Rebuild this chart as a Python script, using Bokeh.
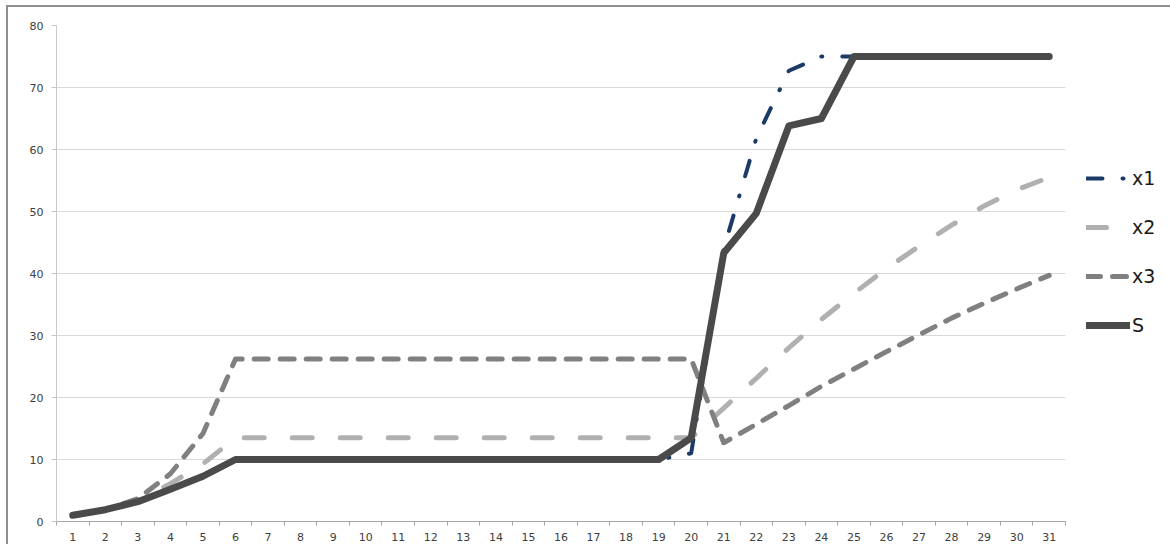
from bokeh.plotting import figure
from bokeh.models import FixedTicker, Legend, LegendItem, ColumnDataSource, Range1d
from bokeh.embed import file_html
from bokeh.resources import INLINE

days = [1, 2, 3, 4, 5, 6, 7, 8, 9, 10, 11, 12, 13, 14, 15, 16,
        17, 18, 19, 20, 21, 22, 23, 24, 25, 26, 27, 28, 29, 30, 31]
day_labels = ["1", "2", "3", "4", "5", "6", "7", "8", "9", "10", "11", "12", "13", "14", "15", "16",
              "17", "18", "19", "20", "21", "22", "23", "24", "25", "26", "27", "28", "29", "30", "31"]

x1 = [1, 1.9, 3.2, 5.2, 7.3, 10, 10, 10, 10, 10, 10, 10, 10, 10, 10, 10,
      10, 10, 10, 11, 44, 61.8, 72.7, 75, 75, 75, 75, 75, 75, 75, 75]
x2 = [1, 1.9, 3.4, 6.1, 9.3, 13.5, 13.5, 13.5, 13.5, 13.5, 13.5, 13.5, 13.5, 13.5, 13.5, 13.5,
      13.5, 13.5, 13.5, 13.5, 18.3, 23.1, 28.0, 32.6, 36.8, 40.8, 44.4, 47.8, 50.9, 53.5, 55.5]
x3 = [1, 1.9, 3.7, 7.7, 14.2, 26.2, 26.2, 26.2, 26.2, 26.2, 26.2, 26.2, 26.2, 26.2, 26.2, 26.2,
      26.2, 26.2, 26.2, 26.2, 12.7, 15.7, 18.7, 21.8, 24.6, 27.4, 30.1, 32.8, 35.2, 37.5, 39.7]
S = [1, 1.9, 3.2, 5.2, 7.3, 10, 10, 10, 10, 10, 10, 10, 10, 10, 10, 10,
     10, 10, 10, 13.5, 43.3, 49.7, 63.8, 65, 75, 75, 75, 75, 75, 75, 75]

y_ticks = [0, 10, 20, 30, 40, 50, 60, 70, 80]

src = ColumnDataSource(dict(day=days, x1=x1, x2=x2, x3=x3, S=S))

p = figure(output_backend="svg", toolbar_location=None,
           width=1162, height=537,
           frame_width=1009, frame_height=496,
           x_range=Range1d(0.5, 31.5), y_range=Range1d(0, 80),
           min_border_left=48, min_border_top=18, min_border_bottom=23, min_border_right=105)
p.margin = (7, 0, 0, 8)
p.styles = {"outline": "2px solid #8f8f8f"}
p.outline_line_color = None
p.background_fill_color = "white"
p.border_fill_color = "white"

# axes
p.xaxis.ticker = FixedTicker(ticks=days, minor_ticks=[d - 0.5 for d in days] + [31.5])
p.xaxis.major_label_overrides = {d: l for d, l in zip(days, day_labels)}
p.xaxis.major_tick_line_color = None
p.xaxis.major_tick_out = 0
p.xaxis.major_tick_in = 0
p.xaxis.minor_tick_out = 4
p.xaxis.minor_tick_in = 0
p.xaxis.minor_tick_line_color = "#a6a6a6"
p.xaxis.axis_line_color = "#a6a6a6"
p.xaxis.major_label_standoff = 7
p.xaxis.major_label_text_font = "DejaVu Sans"
p.xaxis.major_label_text_font_size = "11px"
p.xaxis.major_label_text_color = "#404040"

p.yaxis.ticker = FixedTicker(ticks=y_ticks)
p.yaxis.minor_tick_line_color = None
p.yaxis.major_tick_out = 5
p.yaxis.major_tick_in = 0
p.yaxis.major_tick_line_color = "#c8c8c8"
p.yaxis.axis_line_color = "#c8c8c8"
p.yaxis.major_label_standoff = 8
p.yaxis.major_label_text_font = "DejaVu Sans"
p.yaxis.major_label_text_font_size = "11px"
p.yaxis.major_label_text_color = "#404040"

p.xgrid.grid_line_color = None
p.ygrid.grid_line_color = "#d9d9d9"
p.ygrid.grid_line_width = 1

r1 = p.line("day", "x1", source=src, line_color="#1b3a66", line_width=4,
            line_dash="16 20 1 20", line_cap="round", line_join="round")
r2 = p.line("day", "x2", source=src, line_color="#b0b0b0", line_width=5,
            line_dash="20 28", line_cap="round", line_join="round")
r3 = p.line("day", "x3", source=src, line_color="#808080", line_width=5,
            line_dash="14 12", line_cap="round", line_join="round")
r4 = p.line("day", "S", source=src, line_color="#4a4a4a", line_width=7,
            line_cap="round", line_join="round")

legend = Legend(items=[LegendItem(label="x1", renderers=[r1]),
                       LegendItem(label="x2", renderers=[r2]),
                       LegendItem(label="x3", renderers=[r3]),
                       LegendItem(label="S", renderers=[r4])],
                location=(21, 185), glyph_width=44, glyph_height=20, label_height=20,
                label_standoff=2, spacing=27, padding=0, margin=0,
                border_line_color=None, background_fill_alpha=0,
                label_text_font="DejaVu Sans", label_text_font_size="19px",
                label_text_color="#1a1a1a")
p.add_layout(legend, "right")

open("out.html", "w").write(file_html(p, INLINE))
